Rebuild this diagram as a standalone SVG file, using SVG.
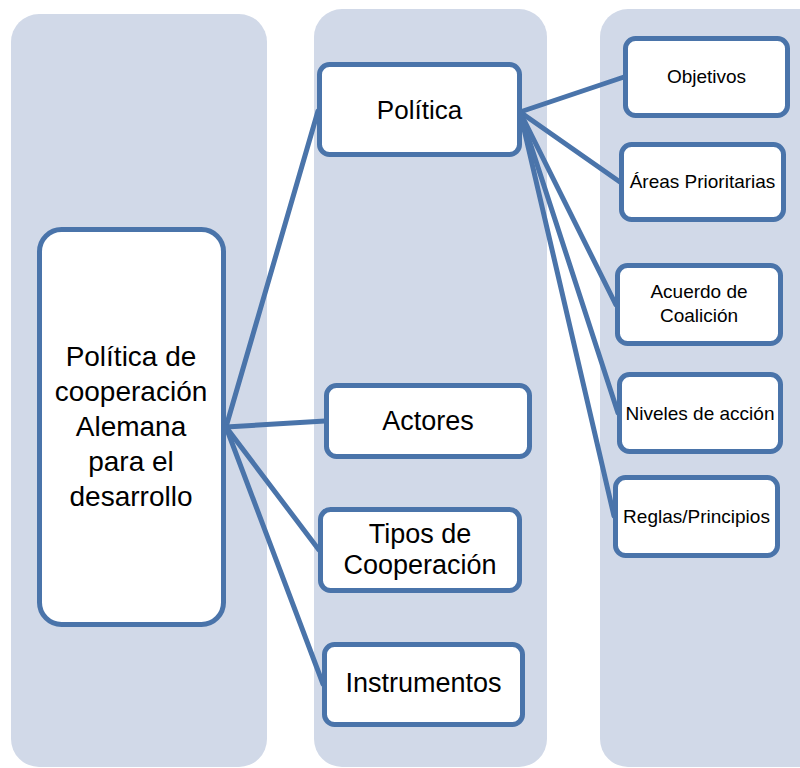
<svg xmlns="http://www.w3.org/2000/svg" width="800" height="768" viewBox="0 0 800 768">
<style>
.col{fill:#d1d9e8}
.box{fill:#fff;stroke:#4a74aa;stroke-width:5}
.ln{stroke:#4a74aa;stroke-width:5;fill:none;stroke-linecap:round}
.big{font-family:"Liberation Sans",Arial,sans-serif;font-size:27px;fill:#000;text-anchor:middle}
.mn{font-size:28px}
.sm{font-family:"Liberation Sans",Arial,sans-serif;font-size:19px;fill:#000;text-anchor:middle}
</style>
<rect width="800" height="768" fill="#fff"/>
<g id="columns">
<rect class="col" x="11" y="14" width="256" height="753" rx="28"/>
<rect class="col" x="314" y="9" width="233" height="758" rx="28"/>
<rect class="col" x="600" y="9" width="230" height="758" rx="28"/>
</g>
<g id="connectors">
<line class="ln" x1="226" y1="427" x2="318" y2="111"/>
<line class="ln" x1="226" y1="427" x2="325" y2="421"/>
<line class="ln" x1="226" y1="427" x2="319" y2="550"/>
<line class="ln" x1="226" y1="427" x2="323" y2="684"/>
<line class="ln" x1="520" y1="112" x2="624" y2="77"/>
<line class="ln" x1="520" y1="112" x2="620" y2="182"/>
<line class="ln" x1="520" y1="112" x2="616" y2="305"/>
<line class="ln" x1="520" y1="112" x2="618" y2="413"/>
<line class="ln" x1="520" y1="112" x2="614" y2="516"/>
</g>
<g id="main">
<rect class="box" x="39.5" y="229.5" width="184" height="395" rx="22"/>
<text class="big mn" x="131" y="366">Política de</text>
<text class="big mn" x="131" y="401">cooperación</text>
<text class="big mn" x="131" y="436">Alemana</text>
<text class="big mn" x="131" y="471">para el</text>
<text class="big mn" x="131" y="506">desarrollo</text>
</g>
<g id="politica">
<rect class="box" x="319.5" y="64.5" width="200" height="90" rx="10"/>
<text class="big" x="419.5" y="119" style="font-size:26px">Política</text>
</g>
<g id="actores">
<rect class="box" x="326.5" y="385.5" width="203" height="71" rx="10"/>
<text class="big" x="428" y="430">Actores</text>
</g>
<g id="tipos">
<rect class="box" x="320.5" y="509.5" width="199" height="81" rx="10"/>
<text class="big" x="420" y="543">Tipos de</text>
<text class="big" x="420" y="574">Cooperación</text>
</g>
<g id="instrumentos">
<rect class="box" x="324.5" y="644.5" width="198" height="80" rx="10"/>
<text class="big" x="423.5" y="692">Instrumentos</text>
</g>
<g id="objetivos">
<rect class="box" x="625.5" y="38.5" width="162" height="77" rx="10"/>
<text class="sm" x="706.5" y="83">Objetivos</text>
</g>
<g id="areas">
<rect class="box" x="621.5" y="144.5" width="162" height="75" rx="10"/>
<text class="sm" x="702.5" y="188">Áreas Prioritarias</text>
</g>
<g id="acuerdo">
<rect class="box" x="617.5" y="265.5" width="163" height="78" rx="10"/>
<text class="sm" x="699" y="298">Acuerdo de</text>
<text class="sm" x="699" y="322">Coalición</text>
</g>
<g id="niveles">
<rect class="box" x="619.5" y="374.5" width="161" height="77" rx="10"/>
<text class="sm" x="700" y="420">Niveles de acción</text>
</g>
<g id="reglas">
<rect class="box" x="615.5" y="477.5" width="162" height="78" rx="10"/>
<text class="sm" x="696.5" y="523">Reglas/Principios</text>
</g>
</svg>
